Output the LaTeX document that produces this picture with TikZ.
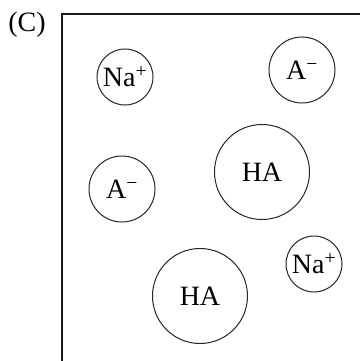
\documentclass[tikz,border=0pt]{standalone}
\usepackage{fontspec}
\setmainfont{Liberation Serif}
\begin{document}
\begin{tikzpicture}[x=1pt,y=-1pt,
  every node/.style={font=\fontsize{28}{30}\selectfont},
  ion/.style={circle,draw=black!85,line width=1pt,inner sep=0pt}]
\useasboundingbox (0,0) rectangle (360,361);
\node (lbl) at (27,25) {(C)};
\draw[line width=2pt,black!90] (62,361) -- (62,14) -- (360,14);
% small ions
\node[ion,minimum size=56pt] (na1) at (125,77) {Na\textsuperscript{+}};
\node[ion,minimum size=56pt] (na2) at (314,264) {Na\textsuperscript{+}};
\node[ion,minimum size=66pt] (a1) at (302,70) {A\textsuperscript{−}};
\node[ion,minimum size=66pt] (a2) at (122,189) {A\textsuperscript{−}};
% acid molecules
\node[ion,minimum size=95pt] (ha1) at (262,172) {HA};
\node[ion,minimum size=95pt] (ha2) at (200,296) {HA};
\end{tikzpicture}
\end{document}
